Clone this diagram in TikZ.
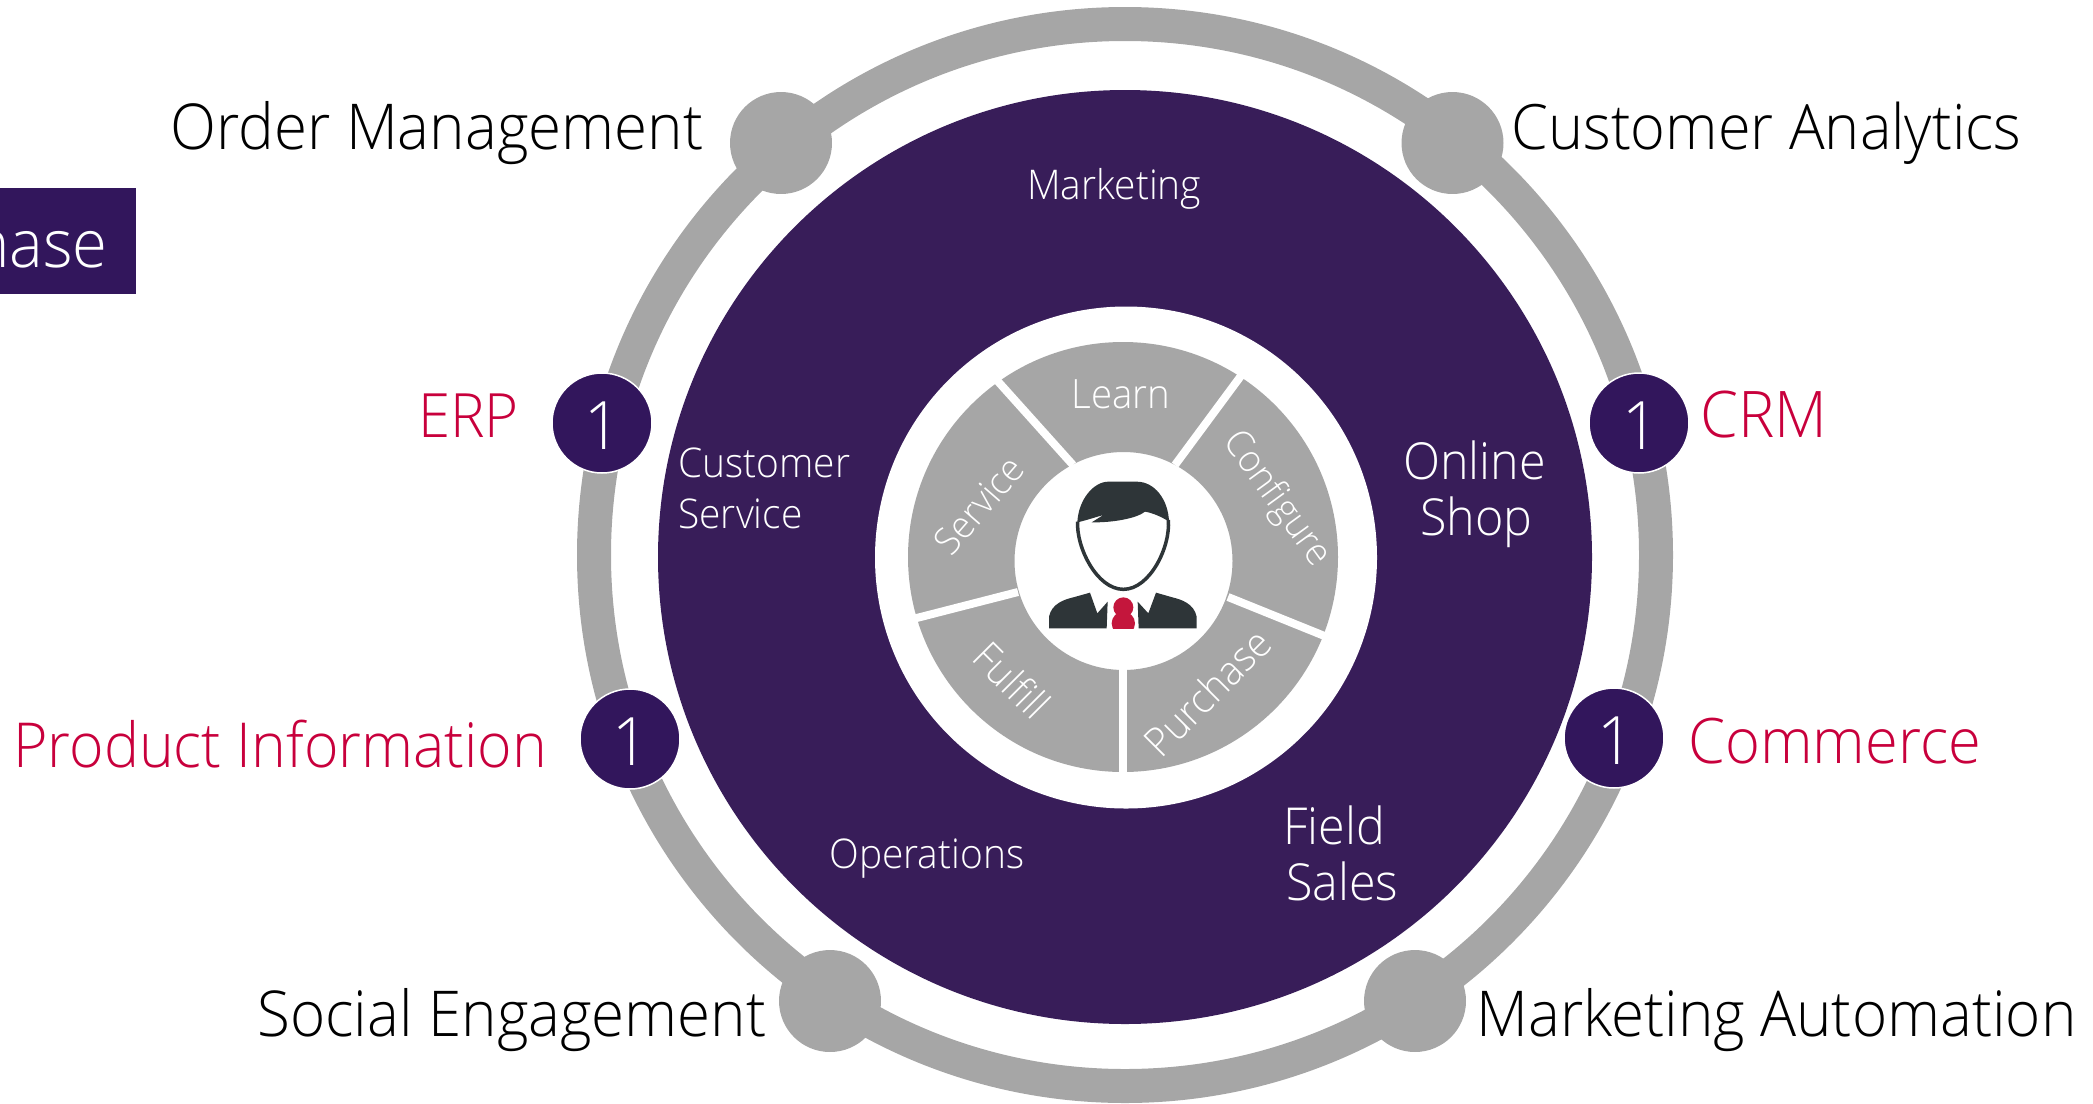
\documentclass[tikz,border=0pt]{standalone}
\usepackage{fontspec}
\setmainfont[FakeStretch=0.95]{Open Sans Light}
\definecolor{discpurple}{HTML}{381D59}
\definecolor{badgepurple}{HTML}{32165C}
\definecolor{ringgrey}{HTML}{A6A6A6}
\definecolor{accentred}{HTML}{C8003C}
\definecolor{icondark}{HTML}{2E3538}
\definecolor{tiered}{HTML}{C4163C}
\tikzset{
  x=0.02cm,y=-0.02cm,
  biglabel/.style={font=\fontsize{36}{40}\selectfont,inner sep=0pt,anchor=base west,text=black},
  redlabel/.style={biglabel,text=accentred},
  midlabel/.style={font=\fontsize{29}{32}\selectfont,inner sep=0pt,anchor=base west,text=white},
  smalllabel/.style={font=\fontsize{23.3}{26}\selectfont,inner sep=0pt,anchor=base west,text=white},
  seglabel/.style={font=\fontsize{23}{25}\selectfont,inner sep=0pt,text=white},
  greydot/.style={circle,fill=ringgrey,minimum size=2.04cm,inner sep=0pt},
  badge/.style={circle,fill=badgepurple,draw=white,line width=0.03cm,minimum size=2cm,inner sep=0pt},
  badgenum/.style={inner sep=0pt,text=white,font=\fontsize{38}{40}\selectfont},
  seggap/.style={white,line width=0.16cm},
}
\begin{document}
\begin{tikzpicture}
\useasboundingbox (0,0) rectangle (2093,1103);
% outer ring
\draw[ringgrey,line width=0.68cm] (1125,555) circle [radius=531];
% main disc
\fill[discpurple] (1125,557) circle [radius=467];
\fill[white] (1126,557.5) circle [radius=251];
% segments
\fill[ringgrey,even odd rule] (1123,557) circle [radius=215] (1123.5,561) circle [radius=109];
\draw[seggap] (994,377) -- (1073,465);
\draw[seggap] (1246,369) -- (1175,465);
\draw[seggap] (1228,597) -- (1332,639);
\draw[seggap] (1123,667) -- (1123,780);
\draw[seggap] (1018,592) -- (905,621);
% ring nodes
\node[greydot] (om) at (781,143) {};
\node[greydot] (ca) at (1452.5,143) {};
\node[greydot] (se) at (830,1001) {};
\node[greydot] (ma) at (1415,1001) {};
\node[badge] (erpb) at (602,423) {};
\node[badge] (crmb) at (1639,423) {};
\node[badge] (pib) at (630,739) {};
\node[badge] (comb) at (1614,738) {};
\node[badgenum] (erpn) at (603,426) {1};
\node[badgenum] (crmn) at (1641,426) {1};
\node[badgenum] (pin) at (631,742) {1};
\node[badgenum] (comn) at (1616,741) {1};
% outer labels
\node[biglabel] (omt) at (170,149) {Order Management};
\node[biglabel,font=\fontsize{35.6}{40}\selectfont] (cat) at (1511,149) {Customer Analytics};
\node[redlabel,font=\fontsize{34.8}{40}\selectfont] (erpt) at (418,437) {ERP};
\node[redlabel,font=\fontsize{36.6}{40}\selectfont] (crmt) at (1700,437) {CRM};
\node[redlabel,font=\fontsize{35.3}{40}\selectfont] (pit) at (13,767) {Product Information};
\node[redlabel,font=\fontsize{35.7}{40}\selectfont] (comt) at (1688,763) {Commerce};
\node[biglabel] (set) at (257,1036) {Social Engagement};
\node[biglabel] (mat) at (1476,1036) {Marketing Automation};
% disc labels
\node[smalllabel] (mk) at (1027,199) {Marketing};
\node[smalllabel] (cs1) at (678,477) {Customer};
\node[smalllabel] (cs2) at (678,528) {Service};
\node[midlabel] (os1) at (1403,479) {Online};
\node[midlabel] (os2) at (1420,535) {Shop};
\node[smalllabel] (op) at (829,868) {Operations};
\node[midlabel] (fs1) at (1283,844) {Field};
\node[midlabel] (fs2) at (1286,900) {Sales};
% segment labels
\node[seglabel] (learn) at (1121,394) {Learn};
\node[seglabel,rotate=-54,font=\fontsize{21.5}{25}\selectfont] (conf) at (1276,499) {Configure};
\node[seglabel,rotate=45] (purch) at (1207,692) {Purchase};
\node[seglabel,rotate=-45] (ful) at (1012,680) {Fulfill};
\node[seglabel,rotate=49,font=\fontsize{21.5}{25}\selectfont] (serv) at (979,505) {Service};
% left cropped box
\fill[badgepurple] (0,188) rectangle (136,294);
\node[biglabel,anchor=base east,text=white,font=\fontsize{38}{40}\selectfont] (ph) at (108,267) {Purchase};
% person icon
\begin{scope}[shift={(1040,460)},x=0.02cm/3,y=-0.02cm/3]
  \draw[icondark,line width=0.07cm] (113,185) .. controls (108,260) and (170,388) .. (250,388) .. controls (330,388) and (392,260) .. (385,180);
  \fill[icondark] (112,187) .. controls (115,120) and (160,65) .. (205,65) -- (290,65) .. controls (345,65) and (385,120) .. (387,185) .. controls (365,170) and (335,158) .. (315,155) .. controls (290,175) and (220,188) .. (155,187) -- (190,165) .. controls (165,172) and (135,182) .. (112,187) -- cycle;
  \fill[icondark] (27,505) -- (27,470) .. controls (35,430) and (75,418) .. (100,412) -- (150,398) -- (172,460) -- (203,425) -- (200,505) -- cycle;
  \fill[icondark] (470,505) -- (470,470) .. controls (462,430) and (422,418) .. (397,412) -- (348,398) -- (325,460) -- (293,425) -- (296,505) -- cycle;
  \fill[tiered] (250,442) circle [radius=30];
  \begin{scope}
    \clip (200,400) rectangle (300,505);
    \fill[tiered] (250,490) circle [radius=35];
  \end{scope}
\end{scope}
\end{tikzpicture}
\end{document}
